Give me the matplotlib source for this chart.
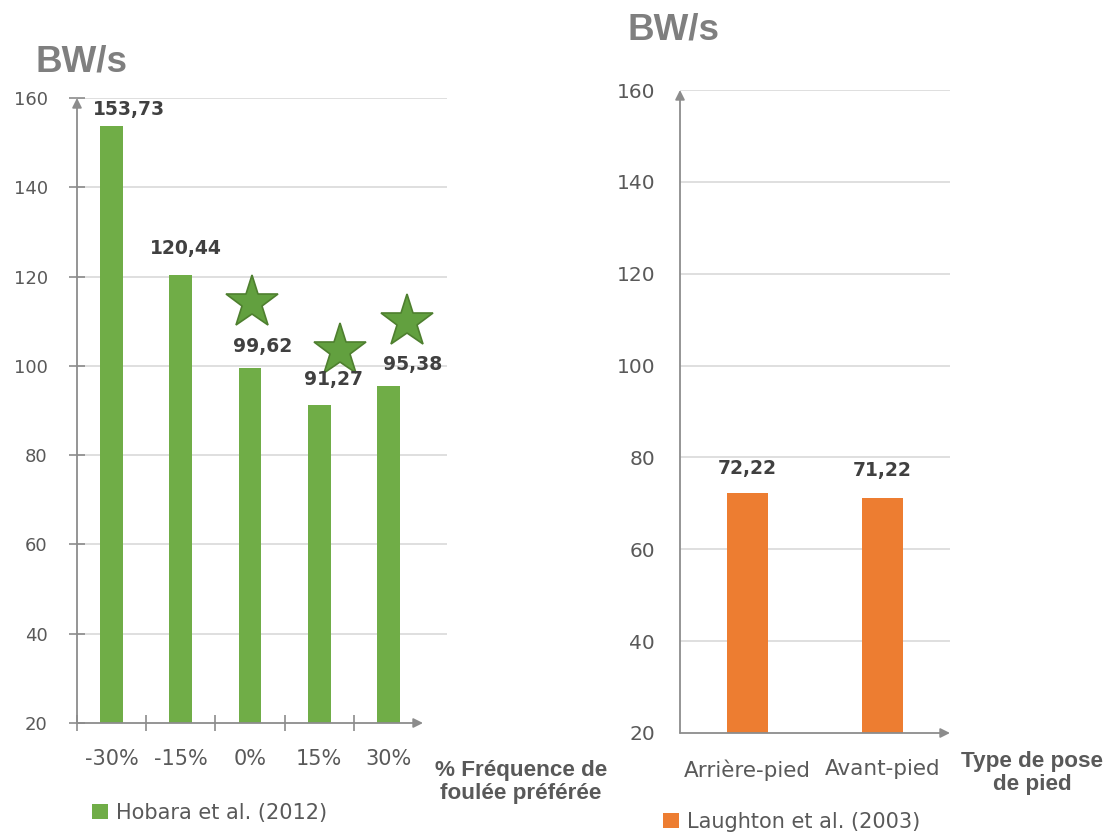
import matplotlib.pyplot as plt
import matplotlib.transforms as mtransforms
from matplotlib import font_manager as fm
import numpy as np

# donnees
freq_labels = ['-30%', '-15%', '0%', '15%', '30%']
hobara = [153.73, 120.44, 99.62, 91.27, 95.38]
star_idx = [2, 3, 4]

pose_labels = ['Arrière-pied', 'Avant-pied']
laughton = [72.22, 71.22]

GREEN = '#70AD47'
ORANGE = '#ED7D31'
AXC = '#8C8C8C'
GRID = '#D9D9D9'
TXT = '#595959'
LBL = '#404040'

# police grasse des titres (Liberation Sans Bold)
titre_file = None
for f in fm.fontManager.ttflist:
    if f.name == 'Liberation Sans' and f.weight in ('bold', 700) and 'Narrow' not in f.fname \
            and f.style == 'normal':
        titre_file = f.fname
        break

def titre_font(size):
    if titre_file:
        return fm.FontProperties(fname=titre_file, size=size)
    return fm.FontProperties(family='DejaVu Sans', weight='bold', size=size * 0.82)

W, H = 1116, 834
fig = plt.figure(figsize=(W / 100, H / 100), dpi=100)

def fmt(v):
    return f"{v:.2f}".replace('.', ',')

def axe_fleche(ax, x0, x1, y0, y1):
    # axes avec fleches (style Excel)
    kw = dict(arrowstyle='-|>', color=AXC, lw=1.3, mutation_scale=14, shrinkA=0, shrinkB=0)
    ax.annotate('', xy=(x0, y1), xytext=(x0, y0), arrowprops=kw, annotation_clip=False)
    ax.annotate('', xy=(x1, y0), xytext=(x0, y0), arrowprops=kw, annotation_clip=False)

# ---------------- graphique gauche ----------------
ax1 = fig.add_axes([77 / W, 1 - 723 / H, (447 - 77) / W, (723 - 98) / H])
x1 = np.arange(len(hobara))
cat_px = 69.2
ax1.set_xlim(-0.5, -0.5 + (447 - 77) / cat_px)
ax1.set_ylim(20, 160)
bars1 = ax1.bar(x1, hobara, width=0.33, color=GREEN, label='Hobara et al. (2012)', zorder=3)

for y in range(40, 161, 20):
    ax1.axhline(y, color=GRID, lw=1.2, zorder=1)
for s in ax1.spines.values():
    s.set_visible(False)
axe_fleche(ax1, -0.5, 4.5, 20, 160)

ax1.set_yticks(range(20, 161, 20))
ax1.tick_params(axis='y', direction='inout', length=12, color=AXC, width=1.2,
                pad=15, labelsize=13, labelcolor=TXT)
ax1.set_xticks(x1)
ax1.set_xticklabels(freq_labels)
ax1.set_xticks(np.arange(-0.5, 4, 1), minor=True)
ax1.tick_params(axis='x', which='major', length=0, pad=19, labelsize=15, labelcolor=TXT)
ax1.tick_params(axis='x', which='minor', direction='inout', length=12, color=AXC, width=1.2)

lab_off1 = [(17, 16), (5, 26), (13, 21), (14, 25), (24, 22)]
for i, v in enumerate(hobara):
    ax1.annotate(fmt(v), xy=(i, v), xytext=lab_off1[i], textcoords='offset pixels',
                 ha='center', va='center', fontsize=13.5, fontweight='bold',
                 color=LBL, zorder=5)

star_off = [(2, 65), (21, 54), (19, 64)]
for k, i in enumerate(star_idx):
    tr = ax1.transData + mtransforms.ScaledTranslation(star_off[k][0] / 100, star_off[k][1] / 100,
                                                        fig.dpi_scale_trans)
    ax1.plot([i], [hobara[i]], marker='*', ms=40, color='#62A03F', mec='#4E7F2F', mew=1.2,
             transform=tr, clip_on=False, zorder=4)

ax1.legend(handles=[bars1], loc='center left', bbox_to_anchor=(92 / W, 1 - 813 / H),
           bbox_transform=fig.transFigure, frameon=False, borderpad=0, borderaxespad=0,
           handlelength=0.75, handleheight=0.75, handletextpad=0.4,
           prop={'size': 15}, labelcolor=TXT)

fig.text(35 / W, 1 - 62 / H, 'BW/s', fontproperties=titre_font(26.5), color='#7F7F7F',
         ha='left', va='center')
fig.text(521 / W, 1 - 782 / H, '% Fréquence de\nfoulée préférée', fontproperties=titre_font(16.2),
         color=TXT, ha='center', va='center', linespacing=1.15)

# ---------------- graphique droit ----------------
ax2 = fig.add_axes([680 / W, 1 - 733 / H, 270 / W, (733 - 90) / H])
x2 = np.arange(len(laughton))
ax2.set_xlim(-0.5, 1.5)
ax2.set_ylim(20, 160)
bars2 = ax2.bar(x2, laughton, width=0.31, color=ORANGE, label='Laughton et al. (2003)', zorder=3)

for y in range(40, 161, 20):
    ax2.axhline(y, color=GRID, lw=1.2, zorder=1)
for s in ax2.spines.values():
    s.set_visible(False)
axe_fleche(ax2, -0.5, 1.5, 20, 160)

ax2.set_yticks(range(20, 161, 20))
ax2.tick_params(axis='y', length=0, pad=18, labelsize=14.5, labelcolor=TXT)
ax2.set_xticks(x2)
ax2.set_xticklabels(pose_labels)
ax2.tick_params(axis='x', length=0, pad=19, labelsize=15.5, labelcolor=TXT)

lab_off2 = [(0, 25), (0, 27)]
for i, v in enumerate(laughton):
    ax2.annotate(fmt(v), xy=(i, v), xytext=lab_off2[i], textcoords='offset pixels',
                 ha='center', va='center', fontsize=13.5, fontweight='bold',
                 color=LBL, zorder=5)

ax2.legend(handles=[bars2], loc='center left', bbox_to_anchor=(663 / W, 1 - 822 / H),
           bbox_transform=fig.transFigure, frameon=False, borderpad=0, borderaxespad=0,
           handlelength=0.75, handleheight=0.75, handletextpad=0.4,
           prop={'size': 15}, labelcolor=TXT)

fig.text(628 / W, 1 - 30 / H, 'BW/s', fontproperties=titre_font(26.5), color='#7F7F7F',
         ha='left', va='center')
fig.text(1032 / W, 1 - 773 / H, 'Type de pose\nde pied', fontproperties=titre_font(16.2),
         color=TXT, ha='center', va='center', linespacing=1.15)

fig.savefig('out.png', dpi=100)
